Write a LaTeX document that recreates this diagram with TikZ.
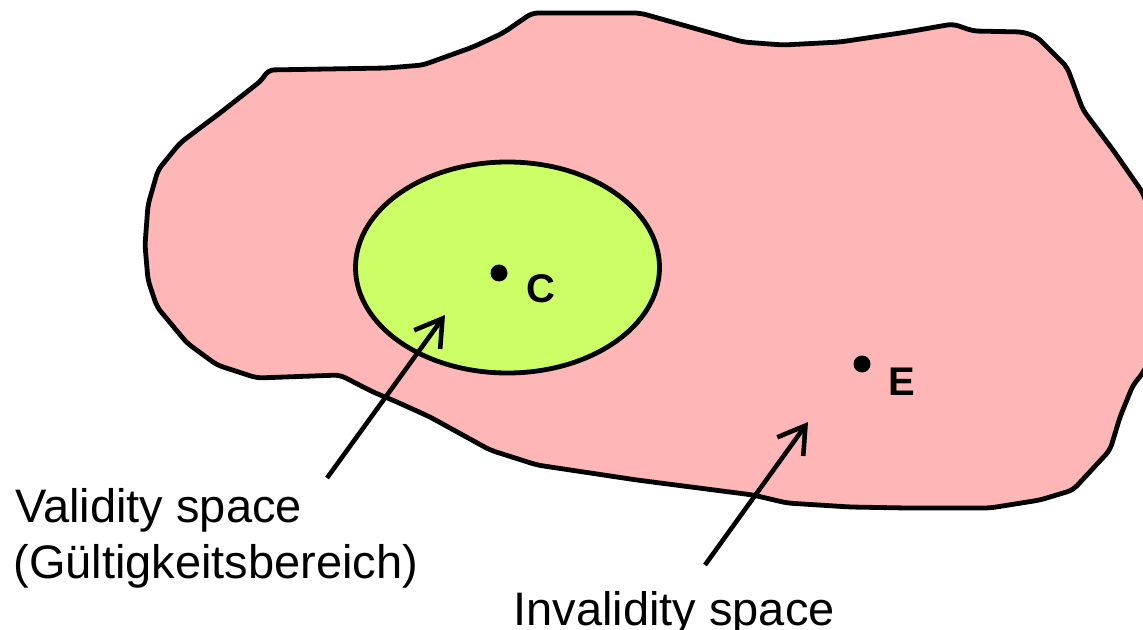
\documentclass[tikz,border=0pt]{standalone}
\usepackage{fontspec}
\setmainfont{Liberation Sans}
\usetikzlibrary{arrows.meta}
\definecolor{InvalidFill}{RGB}{255,182,182}
\definecolor{ValidFill}{RGB}{204,255,102}
\tikzset{
  region/.style={draw=black,line width=2.4pt,line join=round,rounded corners=3pt},
  pointdot/.style={circle,fill=black,inner sep=0pt,minimum size=8.5pt},
  pointlabel/.style={font=\bfseries\fontsize{20}{22}\selectfont,inner sep=0pt},
  callout/.style={font=\fontsize{23.5}{28}\selectfont,inner sep=0pt},
  pointer/.style={line width=2.3pt,-{Straight Barb[length=13pt,width=16pt]}}
}
\begin{document}
\begin{tikzpicture}[x=0.5pt,y=-0.5pt]
  \useasboundingbox (0,0) rectangle (1143,630);
  \clip (0,0) rectangle (1143,630);
  % invalidity space, rough hand-drawn outline
  \draw[region,fill=InvalidFill] (268,70) -- (387,68) -- (423,65) -- (473,47) -- (503,33)
    -- (532,13) -- (640,13) -- (743,42) -- (783,45) -- (840,42) -- (907,32) -- (953,24)
    -- (973,31) -- (1023,32) -- (1037,37) -- (1067,67) -- (1083,110) -- (1113,150)
    -- (1143,193) -- (1158,240) -- (1158,340) -- (1143,373) -- (1133,385) -- (1120,417)
    -- (1110,450) -- (1073,490) -- (1040,500) -- (990,508) -- (907,508) -- (850,507)
    -- (787,503) -- (753,495) -- (637,480) -- (537,465) -- (490,450) -- (430,417)
    -- (397,402) -- (373,392) -- (340,375) -- (257,378) -- (217,365) -- (187,343)
    -- (157,307) -- (148,280) -- (145,245) -- (148,205) -- (158,170) -- (180,143)
    -- (220,113) -- (262,80) -- cycle;
  % validity space
  \draw[region,fill=ValidFill] (507.5,267.5) ellipse [x radius=76pt,y radius=52.75pt];
  % the two points
  \node[pointdot] (cdot) at (499,273) {};
  \node[pointlabel,anchor=base west] (clabel) at (526,302) {C};
  \node[pointdot] (edot) at (862,364) {};
  \node[pointlabel,anchor=base west] (elabel) at (888,395) {E};
  % labels below
  \node[callout,anchor=base west] (validtxt) at (15,522) {Validity space};
  \node[callout,anchor=base west] (validtxtb) at (13,578) {(Gültigkeitsbereich)};
  \node[callout,anchor=base west] (invalidtxt) at (513,625) {Invalidity space};
  \coordinate (vtail) at (327,478);
  \coordinate (vtip) at (445,315);
  \coordinate (itail) at (705,565);
  \coordinate (itip) at (808,422);
  \draw[pointer] (vtail) -- (vtip);
  \draw[pointer] (itail) -- (itip);
\end{tikzpicture}
\end{document}
